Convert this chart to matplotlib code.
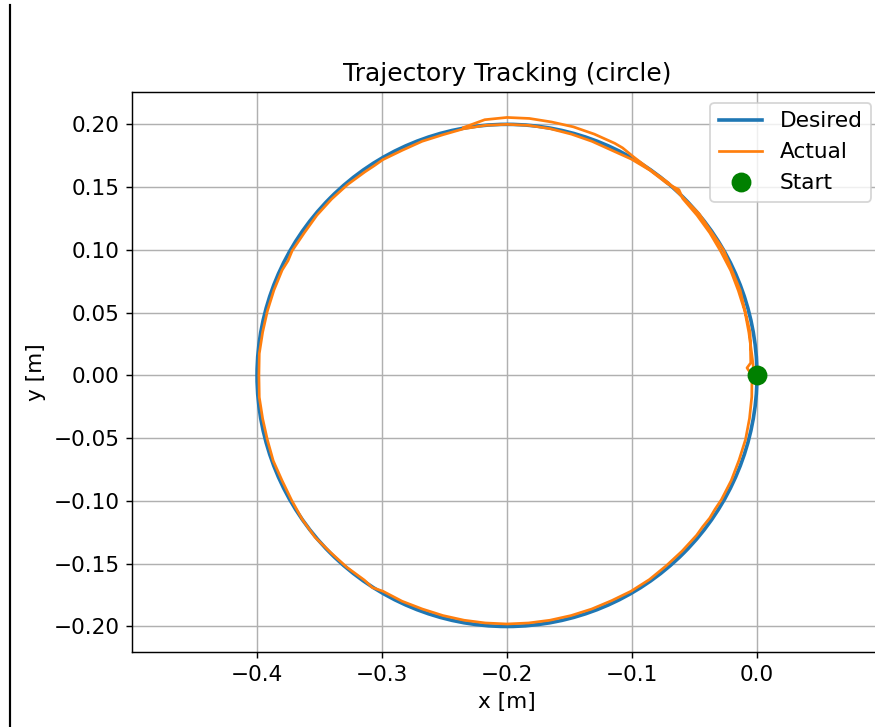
import matplotlib
matplotlib.use("Agg")
import matplotlib.pyplot as plt
from matplotlib.patches import Circle
from matplotlib.lines import Line2D

plt.rcParams["font.size"] = 12

# reference path: circle centre and radius [m]
desired_center = (-0.2, 0.0)
desired_radius = 0.2

# measured end-effector path [m]
actual_x = [
    -0.0020, -0.0042, -0.0065, -0.0097, -0.0149, -0.0210, -0.0290, -0.0378,
    -0.0480, -0.0593, -0.0625, -0.0718, -0.0856, -0.1005, -0.1163, -0.1321,
    -0.1485, -0.1654, -0.1826, -0.2000, -0.2174, -0.2346, -0.2514, -0.2679,
    -0.2837, -0.2993, -0.3063, -0.3136, -0.3276, -0.3404, -0.3521, -0.3622,
    -0.3719, -0.3752, -0.3799, -0.3865, -0.3917, -0.3955, -0.3982, -0.3985,
    -0.3982, -0.3955, -0.3917, -0.3870, -0.3799, -0.3723, -0.3638, -0.3536,
    -0.3411, -0.3282, -0.3142, -0.3077, -0.2993, -0.2839, -0.2677, -0.2512,
    -0.2344, -0.2173, -0.2000, -0.1827, -0.1656, -0.1488, -0.1323, -0.1163,
    -0.1008, -0.0861, -0.0727, -0.0600, -0.0483, -0.0434, -0.0378, -0.0336,
    -0.0285, -0.0206, -0.0144, -0.0092, -0.0060, -0.0042, -0.0040, -0.0080,
    -0.0050, -0.0055, -0.0135, -0.0268, -0.0464, -0.0711, -0.0853, -0.0993,
    -0.1076, -0.1138, -0.1301, -0.1469, -0.1644, -0.1821, -0.2000, -0.2178,
    -0.2348,
]
actual_y = [
    -0.0010, 0.0171, 0.0341, 0.0510, 0.0674, 0.0835, 0.0988, 0.1136,
    0.1276, 0.1407, 0.1480, 0.1528, 0.1634, 0.1723, 0.1794, 0.1865,
    0.1922, 0.1965, 0.1992, 0.2000, 0.1992, 0.1965, 0.1917, 0.1865,
    0.1794, 0.1719, 0.1670, 0.1622, 0.1520, 0.1404, 0.1276, 0.1136,
    0.0993, 0.0914, 0.0839, 0.0679, 0.0514, 0.0345, 0.0174, 0.0000,
    -0.0174, -0.0345, -0.0514, -0.0681, -0.0839, -0.0995, -0.1147, -0.1289,
    -0.1411, -0.1528, -0.1630, -0.1690, -0.1719, -0.1799, -0.1861, -0.1913,
    -0.1950, -0.1972, -0.1980, -0.1972, -0.1950, -0.1913, -0.1861, -0.1794,
    -0.1719, -0.1626, -0.1517, -0.1400, -0.1273, -0.1205, -0.1136, -0.1066,
    -0.0990, -0.0837, -0.0675, -0.0511, -0.0342, -0.0171, 0.0000, 0.0060,
    0.0100, 0.0343, 0.0679, 0.1000, 0.1289, 0.1536, 0.1638, 0.1745,
    0.1813, 0.1849, 0.1922, 0.1980, 0.2019, 0.2047, 0.2055, 0.2037,
    0.1975,
]

start_x = [0.0]
start_y = [0.0]

fig = plt.figure(figsize=(875 / 130, 727 / 130), dpi=130)
ax = fig.add_axes([0.1509, 0.1032, 0.8571, 0.7703])

ax.add_patch(Circle(desired_center, desired_radius, fill=False,
                    edgecolor="C0", linewidth=2, zorder=2))
ax.plot(actual_x, actual_y, color="C1", linewidth=1.5, label="Actual")
ax.plot(start_x, start_y, "o", color="green", markersize=10, label="Start")

ax.set_xlim(-0.5, 0.1)
ax.set_ylim(-0.2203, 0.2258)
ax.set_xticks([-0.4, -0.3, -0.2, -0.1, 0.0])
ax.set_yticks([-0.20, -0.15, -0.10, -0.05, 0.00, 0.05, 0.10, 0.15, 0.20])
ax.grid(True)

ax.set_title("Trajectory Tracking (circle)", fontsize=13.8)
ax.set_xlabel("x [m]")
ax.set_ylabel("y [m]")

handles = [Line2D([], [], color="C0", linewidth=2, label="Desired")]
handles += ax.get_legend_handles_labels()[0]
ax.legend(handles=handles, loc="upper right")

# window edge on the left
fig.add_artist(Line2D([0.0115, 0.0115], [0, 1 - 5 / 727],
                      transform=fig.transFigure, color="black", linewidth=1.2))

fig.savefig("out.png", dpi=130)
